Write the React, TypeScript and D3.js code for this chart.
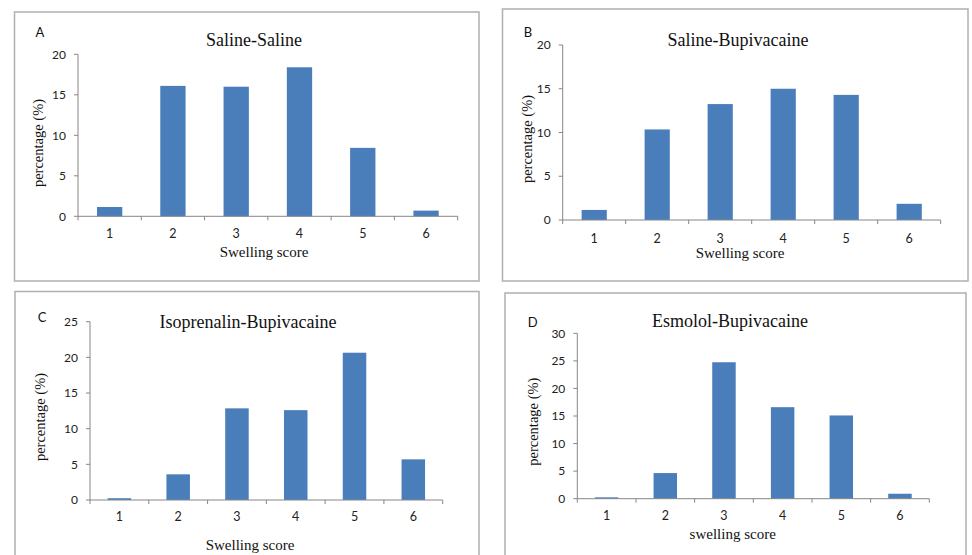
import * as d3 from "d3";

// swelling score categories shared by all four panels
const scores = ["1", "2", "3", "4", "5", "6"];

// percentage per score
const salineSaline = [1.15, 16.1, 16.0, 18.4, 8.45, 0.7];
const salineBupivacaine = [1.15, 10.35, 13.25, 15.0, 14.3, 1.85];
const isoprenalinBupivacaine = [0.25, 3.6, 12.85, 12.6, 20.65, 5.7];
const esmololBupivacaine = [0.25, 4.65, 24.75, 16.6, 15.1, 0.9];

const titles = [
  "Saline-Saline",
  "Saline-Bupivacaine",
  "Isoprenalin-Bupivacaine",
  "Esmolol-Bupivacaine",
];
const letters = ["A", "B", "C", "D"];
const xLabels = ["Swelling score", "Swelling score", "Swelling score", "swelling score"];
const yMaxes = [20, 20, 25, 30];

// layout of every panel on the page
const panels = [
  {
    values: salineSaline,
    box: [14.5, 12, 479, 281],
    left: 78, right: 457.7, bottom: 216.3, top: 54.3,
    title: [254, 46], letter: [40, 37], xLab: [264, 257], yLab: [38, 143], tickY: 237.5,
  },
  {
    values: salineBupivacaine,
    box: [502.5, 9, 968, 281],
    left: 562.7, right: 940.7, bottom: 220, top: 45,
    title: [738, 46], letter: [528, 37], xLab: [740, 258], yLab: [526.5, 139], tickY: 242.5,
  },
  {
    values: isoprenalinBupivacaine,
    box: [15, 291.5, 479, 570],
    left: 90, right: 442.7, bottom: 500, top: 321.7,
    title: [248, 328], letter: [42, 322], xLab: [250, 550], yLab: [40, 417], tickY: 521,
  },
  {
    values: esmololBupivacaine,
    box: [505, 293, 966, 570],
    left: 577.3, right: 929.3, bottom: 498.7, top: 333.3,
    title: [730, 327], letter: [532.7, 327], xLab: [732.7, 539], yLab: [532.7, 421.7], tickY: 520,
  },
];

const barColor = "#4a7ebb";
const axisColor = "#868686";
const sans = "Lato, 'Liberation Sans', sans-serif";
const serif = "'Liberation Serif', 'Times New Roman', serif";

function Panel({ p, i }: { p: any; i: number }) {
  const x = d3
    .scaleBand()
    .domain(scores)
    .range([p.left, p.right])
    .paddingInner(0.6)
    .paddingOuter(0.3);
  const y = d3.scaleLinear().domain([0, yMaxes[i]]).range([p.bottom, p.top]);
  const yTicks = d3.range(0, yMaxes[i] + 1, 5);
  const step = x.step();
  const bounds = d3.range(scores.length + 1).map((k) => p.left + k * step);
  const [bx0, by0, bx1, by1] = p.box;

  return (
    <g>
      <rect
        x={bx0}
        y={by0}
        width={bx1 - bx0}
        height={by1 - by0}
        fill="white"
        stroke="#b0b0b0"
        strokeWidth={1.5}
      />
      <text x={p.letter[0]} y={p.letter[1]} textAnchor="middle" fontFamily={sans} fontSize={13} fill="#111">
        {letters[i]}
      </text>
      <text x={p.title[0]} y={p.title[1]} textAnchor="middle" fontFamily={serif} fontSize={18} fill="#111">
        {titles[i]}
      </text>

      {p.values.map((v: number, k: number) => (
        <rect
          key={k}
          x={x(scores[k])}
          y={y(v)}
          width={x.bandwidth()}
          height={y(0) - y(v)}
          fill={barColor}
        />
      ))}

      {/* y axis */}
      <line x1={p.left} x2={p.left} y1={y(yMaxes[i])} y2={y(0)} stroke={axisColor} />
      {yTicks.map((t) => (
        <g key={t}>
          <line x1={p.left - 4} x2={p.left} y1={y(t)} y2={y(t)} stroke={axisColor} />
          <text
            x={p.left - 12}
            y={y(t)}
            dy="0.35em"
            textAnchor="end"
            fontFamily={sans}
            fontSize={12}
            fill="#222"
          >
            {t}
          </text>
        </g>
      ))}

      {/* x axis */}
      <line x1={p.left} x2={p.right} y1={y(0)} y2={y(0)} stroke={axisColor} />
      {bounds.map((b, k) => (
        <line key={k} x1={b} x2={b} y1={y(0)} y2={y(0) + 4} stroke={axisColor} />
      ))}
      {scores.map((s) => (
        <text
          key={s}
          x={(x(s) ?? 0) + x.bandwidth() / 2}
          y={p.tickY}
          textAnchor="middle"
          fontFamily={sans}
          fontSize={12.5}
          fill="#222"
        >
          {s}
        </text>
      ))}

      <text x={p.xLab[0]} y={p.xLab[1]} textAnchor="middle" fontFamily={serif} fontSize={15} fill="#111">
        {xLabels[i]}
      </text>
      <text
        transform={`translate(${p.yLab[0]},${p.yLab[1]}) rotate(-90)`}
        textAnchor="middle"
        dy="0.35em"
        fontFamily={serif}
        fontSize={14.5}
        fill="#111"
      >
        percentage (%)
      </text>
    </g>
  );
}

export default function App() {
  return (
    <svg
      width={972}
      height={555}
      style={{ position: "absolute", left: 0, top: 0, background: "white" }}
    >
      {panels.map((p, i) => (
        <Panel key={i} p={p} i={i} />
      ))}
    </svg>
  );
}
